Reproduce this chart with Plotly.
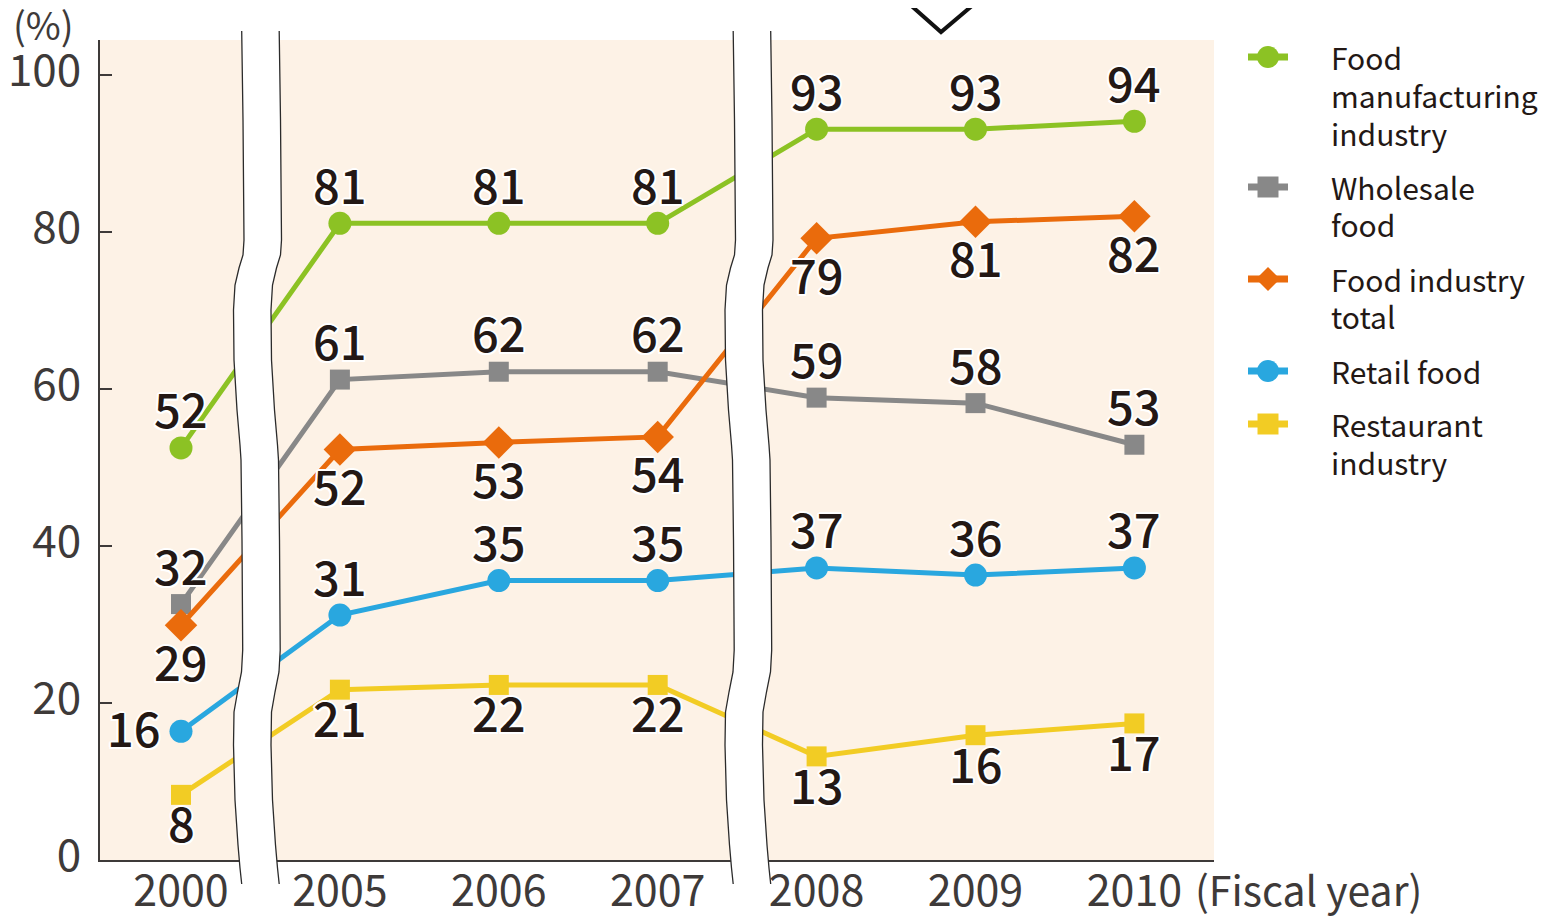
import plotly.graph_objects as go

# ---------------- data ----------------
years = ["2000", "2005", "2006", "2007", "2008", "2009", "2010"]

food_mfg = [52.5, 81.1, 81.1, 81.1, 93.1, 93.1, 94.1]
wholesale = [32.6, 61.2, 62.2, 62.2, 58.9, 58.2, 52.9]
food_total = [29.9, 52.3, 53.2, 53.9, 79.2, 81.3, 82.0]
retail = [16.4, 31.2, 35.6, 35.6, 37.2, 36.3, 37.2]
restaurant = [8.3, 21.7, 22.3, 22.3, 13.2, 15.9, 17.4]

food_mfg_lbl = ["52", "81", "81", "81", "93", "93", "94"]
wholesale_lbl = ["32", "61", "62", "62", "59", "58", "53"]
food_total_lbl = ["29", "52", "53", "54", "79", "81", "82"]
retail_lbl = ["16", "31", "35", "35", "37", "36", "37"]
restaurant_lbl = ["8", "21", "22", "22", "13", "16", "17"]

y_ticks = [0, 20, 40, 60, 80, 100]

# ---------------- style ----------------
OFF = 8                      # page body margin of the html page
W, H = 1547 - OFF, 916 - OFF
PL, PR, PT, PB = 100, 1214, 40, 860   # plot area in screen pixels
FONT = "Noto Sans CJK JP"
TXT = "#231815"
AX = "#3e3a39"
C_GREEN = "#8cc224"
C_GRAY = "#888888"
C_ORANGE = "#ea6b0c"
C_BLUE = "#29a7df"
C_YELLOW = "#f2cc24"
HALO = ("2px 0 0 #fff, -2px 0 0 #fff, 0 2px 0 #fff, 0 -2px 0 #fff, "
        "1.5px 1.5px 0 #fff, -1.5px -1.5px 0 #fff, 1.5px -1.5px 0 #fff, -1.5px 1.5px 0 #fff")

xi = list(range(len(years)))


def px(x, y):
    return (x - PL) / (PR - PL), (PB - y) / (PB - PT)


fig = go.Figure()
annotations = []

series = [
    (food_mfg, food_mfg_lbl, C_GREEN, "circle", 23, "Food manufacturing industry", [(0, 40)] * 7),
    (wholesale, wholesale_lbl, C_GRAY, "square", 20, "Wholesale food", [(0, 40)] * 7),
    (food_total, food_total_lbl, C_ORANGE, "diamond", 25, "Food industry total", [(0, -35)] * 7),
    (retail, retail_lbl, C_BLUE, "circle", 23, "Retail food", [(-47, 5)] + [(0, 40)] * 6),
    (restaurant, restaurant_lbl, C_YELLOW, "square", 20, "Restaurant industry", [(0, -27)] * 7),
]

for vals, lbls, color, symbol, msize, name, shifts in series:
    fig.add_trace(go.Scatter(
        x=xi, y=vals, name=name, mode="lines+markers",
        line=dict(color=color, width=5),
        marker=dict(color=color, symbol=symbol, size=msize, line=dict(width=0)),
        cliponaxis=False, showlegend=False,
    ))
    for xv, yv, lb, (dx, dy) in zip(xi, vals, lbls, shifts):
        annotations.append(dict(
            x=xv, y=yv, xref="x", yref="y", text=lb, showarrow=False,
            xanchor="center", yanchor="middle", xshift=dx, yshift=dy,
            font=dict(family=FONT, size=47, color=TXT, shadow=HALO, weight=500)))

shapes = []

# ---- axis breaks (white bands with wavy edges) ----
left_edge = [(241.7, 31), (243, 120), (244, 240), (243, 255), (239, 268), (235, 285), (233.5, 310),
             (234, 360), (237, 410), (240, 445), (241, 460), (242, 540), (242.7, 650), (241.5, 672),
             (237.5, 692), (234, 712), (233.5, 745), (235, 800), (238, 845), (240, 868), (241.7, 884)]
band_w = 37.5
for shift in (0, 491.5):
    L = [(x + shift, y) for x, y in left_edge]
    R = [(x + shift + band_w, y) for x, y in left_edge]
    poly = L + R[::-1]
    d = "M " + " L ".join("%.5f,%.5f" % px(x, y) for x, y in poly) + " Z"
    shapes.append(dict(type="path", path=d, xref="paper", yref="paper",
                       fillcolor="white", line=dict(width=0), layer="above"))
    for edge in (L, R):
        d = "M " + " L ".join("%.5f,%.5f" % px(x, y) for x, y in edge)
        shapes.append(dict(type="path", path=d, xref="paper", yref="paper",
                           line=dict(color="#2b2b2b", width=1.3), layer="above"))

# ---- chevron at top ----
d = "M " + " L ".join("%.5f,%.5f" % px(x, y) for x, y in [(898, -6), (941, 32), (986, -6)])
shapes.append(dict(type="path", path=d, xref="paper", yref="paper",
                   line=dict(color="#111111", width=4), layer="above"))

# ---- manual legend ----
leg_sym_y = [57, 187, 279, 371, 424]
leg_lines = [[("Food", 57), ("manufacturing", 95), ("industry", 133)],
             [("Wholesale", 187), ("food", 224)],
             [("Food industry", 279), ("total", 316)],
             [("Retail food", 371)],
             [("Restaurant", 424), ("industry", 462)]]
leg_colors = [C_GREEN, C_GRAY, C_ORANGE, C_BLUE, C_YELLOW]
leg_symbols = ["circle", "square", "diamond", "circle", "square"]
for sy, lines, col, sym in zip(leg_sym_y, leg_lines, leg_colors, leg_symbols):
    x0, y0 = px(1248, sy)
    x1, _ = px(1288, sy)
    shapes.append(dict(type="line", xref="paper", yref="paper", x0=x0, x1=x1, y0=y0, y1=y0,
                       line=dict(color=col, width=7), layer="above"))
    cx = 1268
    if sym == "circle":
        a, b = px(cx - 11, sy - 11)
        c, e = px(cx + 11, sy + 11)
        shapes.append(dict(type="circle", xref="paper", yref="paper", x0=a, y0=b, x1=c, y1=e,
                           fillcolor=col, line=dict(width=0), layer="above"))
    elif sym == "square":
        a, b = px(cx - 10.5, sy - 10.5)
        c, e = px(cx + 10.5, sy + 10.5)
        shapes.append(dict(type="rect", xref="paper", yref="paper", x0=a, y0=b, x1=c, y1=e,
                           fillcolor=col, line=dict(width=0), layer="above"))
    else:
        pts = [(cx, sy - 12), (cx + 12, sy), (cx, sy + 12), (cx - 12, sy)]
        d = "M " + " L ".join("%.5f,%.5f" % px(x, y) for x, y in pts) + " Z"
        shapes.append(dict(type="path", path=d, xref="paper", yref="paper",
                           fillcolor=col, line=dict(width=0), layer="above"))
    for txt, ty in lines:
        ax_, ay_ = px(1329, ty)
        annotations.append(dict(text=txt, x=ax_, y=ay_, xref="paper", yref="paper",
                                xanchor="left", yanchor="middle", showarrow=False,
                                font=dict(family=FONT, size=30, color=TXT)))

# ---- axis titles ----
ax_, ay_ = px(43, 24)
annotations.append(dict(text="(%)", x=ax_, y=ay_, xref="paper", yref="paper",
                        xanchor="center", yanchor="middle", showarrow=False,
                        font=dict(family=FONT, size=38, color=AX)))
ax_, ay_ = px(1193, 888)
annotations.append(dict(text="(Fiscal year)", x=ax_, y=ay_, xref="paper", yref="paper",
                        xanchor="left", yanchor="middle", showarrow=False,
                        font=dict(family=FONT, size=41, color=AX)))

x0_idx = -81 / 158.9
x1_idx = (PR - 181) / 158.9
fig.update_layout(
    width=W, height=H,
    margin=dict(l=PL - OFF, r=W - (PR - OFF), t=PT - OFF, b=H - (PB - OFF), pad=0),
    paper_bgcolor="white", plot_bgcolor="#fdf2e6",
    shapes=shapes, annotations=annotations, showlegend=False,
    xaxis=dict(range=[x0_idx, x1_idx], tickvals=xi, ticktext=years, showgrid=False,
               zeroline=False, showline=True, linecolor=AX, linewidth=2, ticks="",
               automargin=False, ticklabelstandoff=-8,
               tickfont=dict(family=FONT, size=43, color=AX)),
    yaxis=dict(range=[0, (PB - PT) / 7.85], tickvals=y_ticks, showgrid=False, zeroline=False,
               showline=True, linecolor=AX, linewidth=2, ticks="inside", ticklen=12,
               tickwidth=2, tickcolor=AX, ticklabelstandoff=8, ticklabelshift=-4,
               automargin=False,
               tickfont=dict(family=FONT, size=44, color=AX)),
)

fig.write_html("out.html")
